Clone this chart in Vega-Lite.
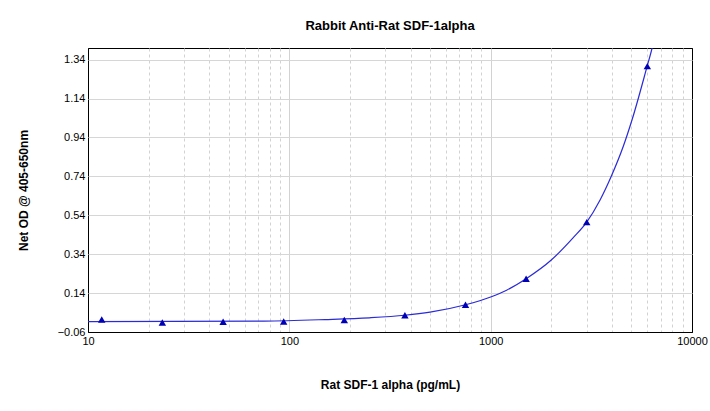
{
  "$schema": "https://vega.github.io/schema/vega-lite/v6.json",
  "width": 604,
  "height": 284,
  "autosize": {"type": "none"},
  "padding": {"left": 88, "top": 48, "right": 18, "bottom": 79},
  "background": "white",
  "title": {"text": "Rabbit Anti-Rat SDF-1alpha", "font": "Liberation Sans", "fontSize": 13, "fontWeight": "bold", "color": "black", "offset": 15, "anchor": "middle"},
  "config": {
    "view": {"stroke": "black", "strokeWidth": 1},
    "axis": {"labelFont": "Liberation Sans", "labelFontSize": 11, "labelColor": "black", "titleFont": "Liberation Sans", "titleFontSize": 12, "titleFontWeight": "bold", "titleColor": "black", "domain": false}
  },
  "datasets": {
    "points": [
      {"conc": 11.7, "od": 0.004},
      {"conc": 23.4, "od": -0.011},
      {"conc": 46.9, "od": -0.007},
      {"conc": 93.75, "od": -0.006},
      {"conc": 187.5, "od": 0.002},
      {"conc": 375, "od": 0.026},
      {"conc": 750, "od": 0.08},
      {"conc": 1500, "od": 0.214},
      {"conc": 3000, "od": 0.505},
      {"conc": 6000, "od": 1.307}
    ],
    "curve": [
      {"conc": 10, "od": -0.007},
      {"conc": 75, "od": -0.004},
      {"conc": 150, "od": 0.004},
      {"conc": 250, "od": 0.013},
      {"conc": 375, "od": 0.026},
      {"conc": 500, "od": 0.042},
      {"conc": 750, "od": 0.08},
      {"conc": 1000, "od": 0.12},
      {"conc": 1200, "od": 0.155},
      {"conc": 1500, "od": 0.214},
      {"conc": 2000, "od": 0.31},
      {"conc": 2565, "od": 0.424},
      {"conc": 3000, "od": 0.505},
      {"conc": 3500, "od": 0.62},
      {"conc": 3963, "od": 0.738},
      {"conc": 4549, "od": 0.892},
      {"conc": 5038, "od": 1.031},
      {"conc": 5979, "od": 1.304},
      {"conc": 6337, "od": 1.4},
      {"conc": 6600, "od": 1.48}
    ]
  },
  "layer": [
    {
      "data": {"name": "curve"},
      "mark": {"type": "line", "color": "#2a2ad8", "strokeWidth": 1.2, "interpolate": "monotone", "clip": true},
      "encoding": {
        "x": {
          "field": "conc", "type": "quantitative",
          "scale": {"type": "log", "domain": [10, 10000], "nice": false},
          "axis": {
            "title": "Rat SDF-1 alpha (pg/mL)",
            "titlePadding": 33,
            "values": [10,20,30,40,50,60,70,80,90,100,200,300,400,500,600,700,800,900,1000,2000,3000,4000,5000,6000,7000,8000,9000,10000],
            "format": "d",
            "labelExpr": "indexof([10,100,1000,10000], datum.value) >= 0 ? datum.label : ''",
            "labelPadding": 3,
            "labelFlush": false,
            "labelOverlap": false,
            "ticks": false,
            "grid": true,
            "gridColor": {"condition": {"test": "datum.value == 10 || datum.value == 10000", "value": "black"}, "value": "#d2d2d2"},
            "gridDash": {"condition": {"test": "indexof([10,100,1000,10000], datum.value) < 0", "value": [3, 3]}, "value": []}
          }
        },
        "y": {
          "field": "od", "type": "quantitative",
          "scale": {"domain": [-0.06, 1.4], "nice": false, "zero": false},
          "axis": {
            "title": "Net OD @ 405-650nm",
            "titlePadding": 27,
            "values": [-0.06, 0.14, 0.34, 0.54, 0.74, 0.94, 1.14, 1.34],
            "format": ".2f",
            "labelPadding": 3,
            "ticks": false,
            "grid": true,
            "gridColor": {"condition": {"test": "datum.value < -0.05", "value": "black"}, "value": "#d6d6d6"}
          }
        }
      }
    },
    {
      "data": {"name": "points"},
      "mark": {"type": "point", "shape": "triangle-up", "filled": true, "color": "#0000b4", "size": 55, "opacity": 1},
      "encoding": {
        "x": {"field": "conc", "type": "quantitative"},
        "y": {"field": "od", "type": "quantitative"}
      }
    }
  ]
}
